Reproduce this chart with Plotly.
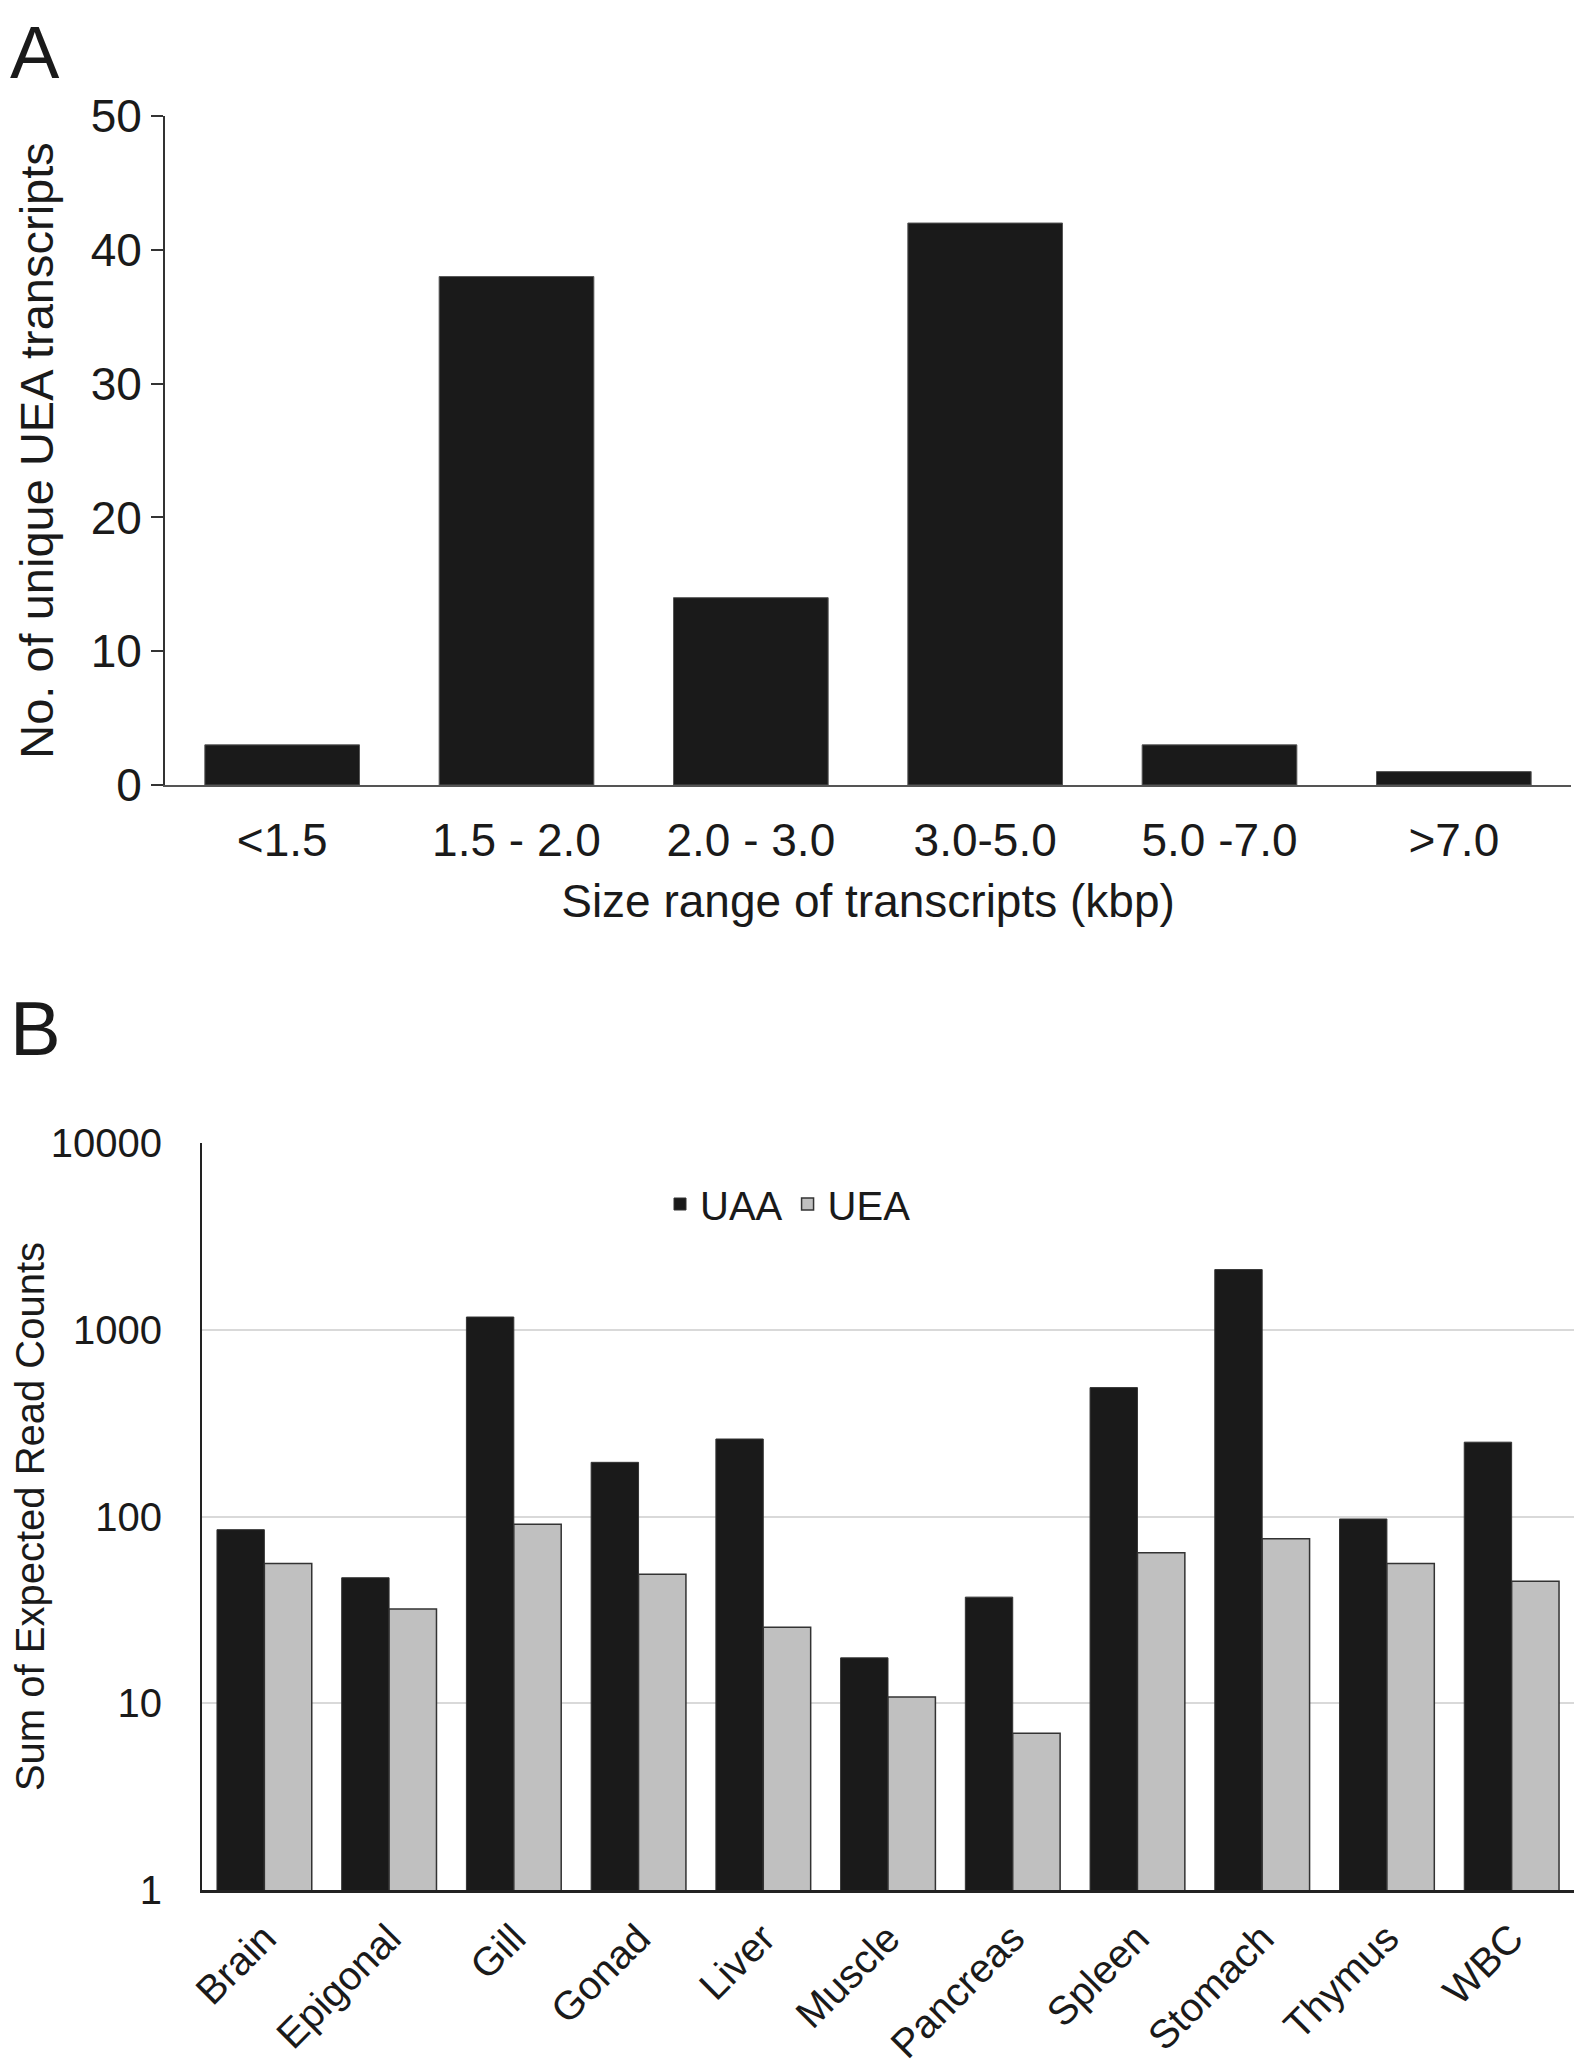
import plotly.graph_objects as go

# Panel A data
size_ranges = ["<1.5", "1.5 - 2.0", "2.0 - 3.0", "3.0-5.0", "5.0 -7.0", ">7.0"]
uea_counts = [3, 38, 14, 42, 3, 1]

# Panel B data
tissues = ["Brain", "Epigonal", "Gill", "Gonad", "Liver", "Muscle", "Pancreas",
           "Spleen", "Stomach", "Thymus", "WBC"]
uaa_reads = [85, 47, 1170, 195, 260, 17.5, 37, 490, 2100, 97, 250]
uea_reads = [56, 32, 91, 49, 25.5, 10.8, 6.9, 64, 76, 56, 45]
log_ticks = [1, 10, 100, 1000, 10000]

OFF = 8  # page body margin
W, H = 1584 - OFF, 2070 - OFF
FONT = "Liberation Sans, Arial, sans-serif"
TXT = "#1a1a1a"


def px(x):
    return (x - OFF) / W


def py(y):
    return 1 - (y - OFF) / H


fig = go.Figure()

fig.add_trace(go.Bar(
    x=size_ranges, y=uea_counts, xaxis="x", yaxis="y", width=0.66,
    marker=dict(color="#1a1a1a", line=dict(color="#555555", width=1)),
    showlegend=False,
))

fig.add_trace(go.Bar(
    x=tissues, y=uaa_reads, name="UAA", xaxis="x2", yaxis="y2",
    marker=dict(color="#1a1a1a", line=dict(color="#333333", width=1)),
))
fig.add_trace(go.Bar(
    x=tissues, y=uea_reads, name="UEA", xaxis="x2", yaxis="y2",
    marker=dict(color="#c0c0c0", line=dict(color="#333333", width=1.5)),
))

fig.update_layout(
    template="none",
    width=W, height=H,
    margin=dict(l=0, r=0, t=0, b=0, pad=0),
    paper_bgcolor="white", plot_bgcolor="white",
    font=dict(family=FONT, color=TXT, size=46),
    barmode="group",
    bargap=0.24, bargroupgap=0.0,
    xaxis=dict(
        domain=[px(165), px(1571)], anchor="y", automargin=False,
        showline=True, linecolor="#555555", linewidth=2,
        ticks="", showgrid=False, zeroline=False,
        tickfont=dict(size=46, family=FONT, color=TXT),
        ticklabelstandoff=14,
        title=dict(text="Size range of transcripts (kbp)", font=dict(size=46, family=FONT, color=TXT), standoff=20),
    ),
    yaxis=dict(
        domain=[py(785), py(116)], anchor="x", automargin=False,
        range=[0, 50], dtick=10,
        showline=True, linecolor="#333333", linewidth=2,
        ticks="outside", ticklen=12, tickwidth=2, tickcolor="#333333",
        showgrid=False, zeroline=False,
        tickfont=dict(size=46, family=FONT, color=TXT),
        title=dict(text="No. of unique UEA transcripts", font=dict(size=47, family=FONT, color=TXT), standoff=22),
    ),
    xaxis2=dict(
        domain=[px(202), px(1574)], anchor="y2", automargin=False,
        showline=True, linecolor="#222222", linewidth=2.5,
        ticks="", showgrid=False, zeroline=False,
        tickangle=-45,
        tickfont=dict(size=40, family=FONT, color=TXT),
        ticklabelstandoff=6,
    ),
    yaxis2=dict(
        domain=[py(1890), py(1143)], anchor="x2", automargin=False,
        type="log", range=[0, 4],
        tickvals=log_ticks, ticktext=[str(v) for v in log_ticks],
        showline=True, linecolor="#222222", linewidth=2,
        ticks="", showgrid=True, gridcolor="#d9d9d9", gridwidth=2,
        zeroline=False,
        tickfont=dict(size=40, family=FONT, color=TXT),
        ticklabelstandoff=30,
        title=dict(text="Sum of Expected Read Counts", font=dict(size=40, family=FONT, color=TXT), standoff=10),
    ),
    showlegend=True,
    legend=dict(
        orientation="h", x=px(660), y=py(1204), xanchor="left", yanchor="middle",
        font=dict(size=40, family=FONT, color=TXT),
        bgcolor="rgba(0,0,0,0)", itemwidth=30, borderwidth=0,
    ),
    annotations=[
        dict(text="A", x=0.0, y=1.0, xref="paper", yref="paper",
             xanchor="left", yanchor="top", height=84, valign="middle",
             showarrow=False,
             font=dict(size=74, family=FONT, color=TXT)),
        dict(text="B", x=0.0, y=py(1028), xref="paper", yref="paper",
             xanchor="left", yanchor="middle", showarrow=False,
             font=dict(size=76, family=FONT, color=TXT)),
    ],
)

fig.write_html("out.html")
